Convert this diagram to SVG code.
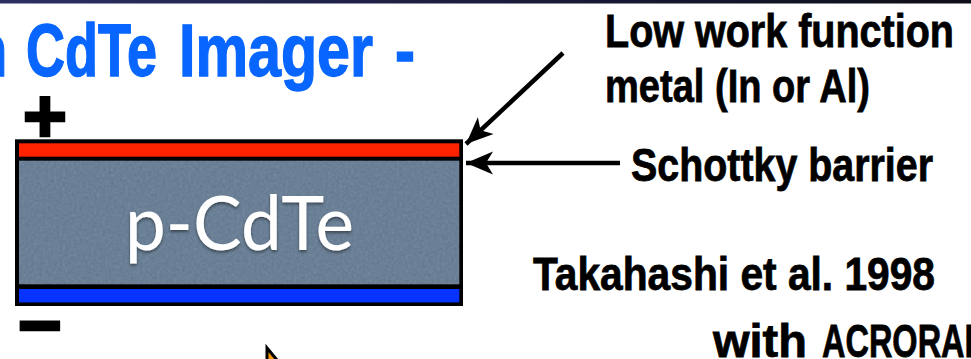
<svg xmlns="http://www.w3.org/2000/svg" width="971" height="359" viewBox="0 0 971 359">
  <defs>
    <linearGradient id="topBar" x1="0" y1="0" x2="1" y2="0">
      <stop offset="0" stop-color="#2c2f63"/>
      <stop offset="0.5" stop-color="#1a1c3c"/>
      <stop offset="1" stop-color="#0e0e18"/>
    </linearGradient>
    <filter id="grain" x="0" y="0" width="100%" height="100%">
      <feTurbulence type="fractalNoise" baseFrequency="0.35" numOctaves="2" seed="4" result="n"/>
      <feColorMatrix in="n" type="matrix" values="0 0 0 0 0.38  0 0 0 0 0.47  0 0 0 0 0.57  0 0 0 0.35 -0.05" result="tint"/>
      <feComposite in="tint" in2="SourceGraphic" operator="in"/>
    </filter>
    <filter id="softShadow" x="-10%" y="-20%" width="120%" height="150%">
      <feDropShadow dx="0" dy="2" stdDeviation="1.5" flood-color="#000" flood-opacity="0.45"/>
    </filter>
    <marker id="head" markerUnits="userSpaceOnUse" markerWidth="30" markerHeight="30" viewBox="-28 -14 30 28" refX="0" refY="0" orient="auto">
      <path d="M0,0 L-27,-11.5 L-20,0 L-27,11.5 Z" fill="#000"/>
    </marker>
    <style>
      .label { font-family: "Liberation Sans", Arial, sans-serif; font-weight: bold; fill: #000; stroke: #000; stroke-width: 0.8px; font-size: 47px; }
      .title { font-family: "Liberation Sans", Arial, sans-serif; font-weight: bold; fill: #0866ff; stroke: #0866ff; stroke-width: 1.4px; font-size: 74px; }
      .sign { font-family: "Liberation Sans", "DejaVu Sans", sans-serif; font-weight: bold; fill: #000; stroke: #000; stroke-width: 2.4px; }
      .conn { stroke: #000; stroke-width: 4.5; fill: none; marker-end: url(#head); }
    </style>
  </defs>

  <rect x="0" y="0" width="971" height="359" fill="#ffffff"/>
  <rect x="0" y="0" width="971" height="3.5" fill="url(#topBar)"/>

  <!-- heading, cut off at the left edge -->
  <text class="title" y="76"><tspan x="-24" textLength="31" lengthAdjust="spacingAndGlyphs">n</tspan><tspan x="26" textLength="131" lengthAdjust="spacingAndGlyphs">CdTe</tspan><tspan x="179" textLength="194" lengthAdjust="spacingAndGlyphs">Imager</tspan><tspan x="395" textLength="20" lengthAdjust="spacingAndGlyphs">-</tspan></text>

  <!-- detector stack: electrode / p-CdTe / electrode -->
  <g id="detector">
    <rect x="15" y="139.3" width="448" height="166.7" fill="#000"/>
    <rect x="19" y="143.3" width="440.3" height="13.4" fill="#ff2200"/>
    <rect x="19" y="160.7" width="440.3" height="123.6" fill="#62788f"/>
    <rect x="19" y="160.7" width="440.3" height="123.6" fill="#62788f" filter="url(#grain)"/>
    <rect x="19" y="289" width="440.3" height="13.4" fill="#0633ff"/>
    <text x="125" y="250" font-family="Lato, 'Open Sans', sans-serif" font-size="76" fill="#ffffff" textLength="229" lengthAdjust="spacingAndGlyphs" filter="url(#softShadow)">p-CdTe</text>
  </g>

  <g id="polarity">
    <text class="sign" x="45" y="142" font-size="76" text-anchor="middle">+</text>
    <text class="sign" x="40" y="351" font-size="76" text-anchor="middle">−</text>
  </g>

  <g id="label-metal">
    <text class="label" x="605" y="46.7" textLength="349" lengthAdjust="spacingAndGlyphs">Low work function</text>
    <text class="label" x="605" y="101.5" textLength="265" lengthAdjust="spacingAndGlyphs">metal (In or Al)</text>
  </g>

  <g id="label-schottky">
    <text class="label" x="631" y="181" textLength="302" lengthAdjust="spacingAndGlyphs">Schottky barrier</text>
  </g>

  <g id="label-reference">
    <text class="label" x="533" y="290" textLength="402" lengthAdjust="spacingAndGlyphs">Takahashi et al. 1998</text>
    <text class="label" y="357"><tspan x="713" textLength="94" lengthAdjust="spacingAndGlyphs">with</tspan><tspan x="822" textLength="166" lengthAdjust="spacingAndGlyphs">ACRORAD</tspan></text>
  </g>

  <g id="connectors">
    <line class="conn" x1="563" y1="53" x2="466" y2="144"/>
    <line class="conn" x1="620" y1="163" x2="466" y2="163"/>
  </g>

  <!-- pointer tip entering from the bottom edge -->
  <g id="pointer">
    <path d="M267,348 L267,372 L287,372 Z" fill="#ff9900" stroke="#000" stroke-width="3" stroke-linejoin="miter"/>
  </g>
</svg>
